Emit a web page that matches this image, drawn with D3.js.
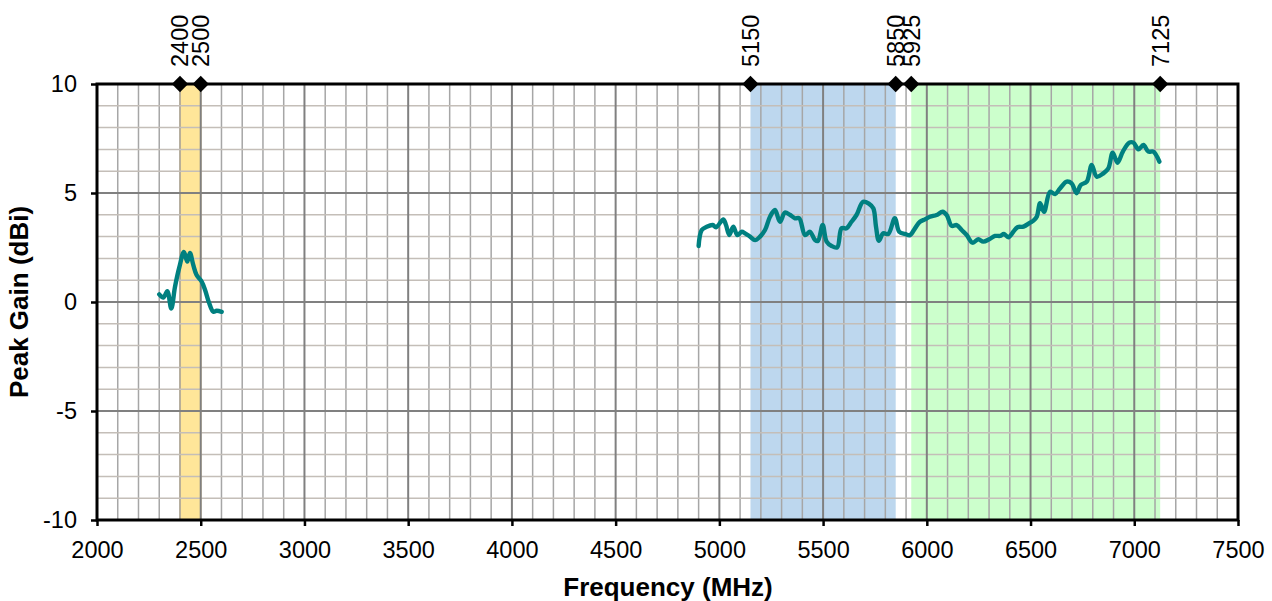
<!DOCTYPE html>
<html><head><meta charset="utf-8">
<script src="https://cdn.jsdelivr.net/npm/d3@7"></script>
<style>body{margin:0;background:#fff;} text{font-family:"Liberation Sans",Arial,sans-serif;}</style>
</head><body>
<svg id="c" width="1272" height="601"></svg>
<script>
const lowFreq = [2300,2320,2339,2358,2376,2397,2419,2435,2448,2464,2480,2505,2521,2541,2561,2577,2601];
const lowGain = [0.35,0.2,0.5,-0.3,0.7,1.6,2.3,1.85,2.25,1.7,1.24,0.93,0.55,-0.06,-0.45,-0.4,-0.45];
const highFreq = [4900,4915,4939,4968,4984,5019,5032,5048,5067,5087,5108,5124,5148,5172,5196,5220,5244,5268,5292,5316,5340,5365,5385,5413,5437,5461,5475,5498,5517,5541,5568,5589,5613,5637,5661,5693,5722,5742,5755,5769,5790,5814,5846,5867,5895,5919,5943,5967,5991,6015,6047,6076,6096,6120,6144,6168,6192,6221,6248,6272,6301,6329,6353,6372,6393,6417,6437,6466,6498,6514,6530,6546,6565,6594,6618,6642,6674,6698,6722,6742,6771,6795,6819,6851,6875,6896,6919,6945,6976,6996,7020,7044,7068,7092,7121];
const highGain = [2.57,3.3,3.45,3.53,3.43,3.79,3.53,3.07,3.45,3.07,3.22,3.15,3.0,2.84,3.0,3.3,3.91,4.22,3.68,4.1,4.0,3.84,3.84,3.07,3.22,2.84,2.8,3.53,2.77,2.57,2.51,3.38,3.38,3.68,3.99,4.6,4.5,4.3,3.46,2.81,3.15,3.12,3.84,3.22,3.12,3.07,3.38,3.68,3.79,3.91,3.99,4.14,3.99,3.49,3.53,3.3,3.07,2.72,2.88,2.77,2.88,3.03,3.03,3.12,2.97,3.22,3.43,3.46,3.64,3.73,3.91,4.53,4.14,5.06,4.95,5.21,5.52,5.44,4.99,5.37,5.52,6.29,5.75,5.9,6.13,6.85,6.39,6.9,7.31,7.31,7.0,7.2,6.9,6.9,6.44];
const bandStart = [2400,5150,5925];
const bandEnd = [2500,5850,7125];
const bandColor = ["#FFE699","#BDD7EE","#CCFFCC"];
const markerFreq = [2400,2500,5150,5850,5925,7125];
const xTicks = [2000,2500,3000,3500,4000,4500,5000,5500,6000,6500,7000,7500];
const yTicks = [-10,-5,0,5,10];

const svg = d3.select("#c");
const L=97, R=1238, T=84, B=520;
const FS = 23.5;
const x = d3.scaleLinear().domain([2000,7500]).range([L,R]);
const y = d3.scaleLinear().domain([-10,10]).range([B,T]);

// bands
bandStart.forEach((s,i)=>{
  svg.append("rect").attr("x",x(s)).attr("y",T).attr("width",x(bandEnd[i])-x(s)).attr("height",B-T).attr("fill",bandColor[i]);
});
[2400,2500].forEach(f=>svg.append("line").attr("x1",x(f)).attr("x2",x(f)).attr("y1",T).attr("y2",B).attr("stroke","#E0B050").attr("stroke-width",1.2));

// minor grid
const g = svg.append("g");
d3.range(2100,7500,100).filter(f=>f%500!==0).forEach(f=>{
  g.append("line").attr("x1",x(f)).attr("x2",x(f)).attr("y1",T).attr("y2",B).attr("stroke","#A6A6A6").attr("stroke-width",1.5);
});
d3.range(-9,10,1).filter(v=>v%5!==0).forEach(v=>{
  g.append("line").attr("x1",L).attr("x2",R).attr("y1",y(v)).attr("y2",y(v)).attr("stroke","#C4BEB8").attr("stroke-width",1.5);
});
// major grid
xTicks.slice(1,-1).forEach(f=>{
  g.append("line").attr("x1",x(f)).attr("x2",x(f)).attr("y1",T).attr("y2",B).attr("stroke","#808080").attr("stroke-width",2);
});
yTicks.slice(1,-1).forEach(v=>{
  g.append("line").attr("x1",L).attr("x2",R).attr("y1",y(v)).attr("y2",y(v)).attr("stroke","#808080").attr("stroke-width",2);
});

// lines
const line = d3.line().x(d=>x(d[0])).y(d=>y(d[1])).curve(d3.curveCatmullRom.alpha(0.5));
svg.append("path").datum(lowFreq.map((f,i)=>[f,lowGain[i]])).attr("d",line).attr("fill","none").attr("stroke","#008080").attr("stroke-width",4.4).attr("stroke-linejoin","round").attr("stroke-linecap","round");
svg.append("path").datum(highFreq.map((f,i)=>[f,highGain[i]])).attr("d",line).attr("fill","none").attr("stroke","#008080").attr("stroke-width",4.4).attr("stroke-linejoin","round").attr("stroke-linecap","round");

// axes
const xAxis = svg.append("g").attr("transform",`translate(0,${B})`).call(d3.axisBottom(x).tickValues(xTicks).tickSize(6).tickFormat(d3.format("d")));
const yAxis = svg.append("g").attr("transform",`translate(${L},0)`).call(d3.axisLeft(y).tickValues(yTicks).tickSize(6).tickPadding(14).tickFormat(d=>d));
[xAxis,yAxis].forEach(a=>{
  a.select(".domain").remove();
  a.selectAll("line").attr("stroke","#000").attr("stroke-width",2.5);
  a.selectAll("text").attr("font-size",FS).attr("fill","#000").style("font-family","Liberation Sans, Arial, sans-serif");
});
xAxis.selectAll("text").attr("dy",null).attr("y",38);
// frame
svg.append("rect").attr("x",L).attr("y",T).attr("width",R-L).attr("height",B-T).attr("fill","none").attr("stroke","#000").attr("stroke-width",3);

// top markers
svg.selectAll(".mk").data(markerFreq).enter().append("path")
  .attr("d",d3.symbol().type(d3.symbolDiamond2).size(170)).attr("fill","#000")
  .attr("transform",d=>`translate(${x(d)},${T})`);
svg.selectAll(".mt").data(markerFreq).enter().append("text")
  .attr("transform",d=>`translate(${x(d)+8.5},67) rotate(-90)`).attr("font-size",FS).attr("fill","#000").text(d=>d);

// titles
svg.append("text").attr("x",668).attr("y",596).attr("text-anchor","middle").attr("font-size",26).attr("font-weight","bold").text("Frequency (MHz)");
svg.append("text").attr("transform",`translate(28,${(T+B)/2}) rotate(-90)`).attr("text-anchor","middle").attr("font-size",26).attr("font-weight","bold").text("Peak Gain (dBi)");
</script>
</body></html>
